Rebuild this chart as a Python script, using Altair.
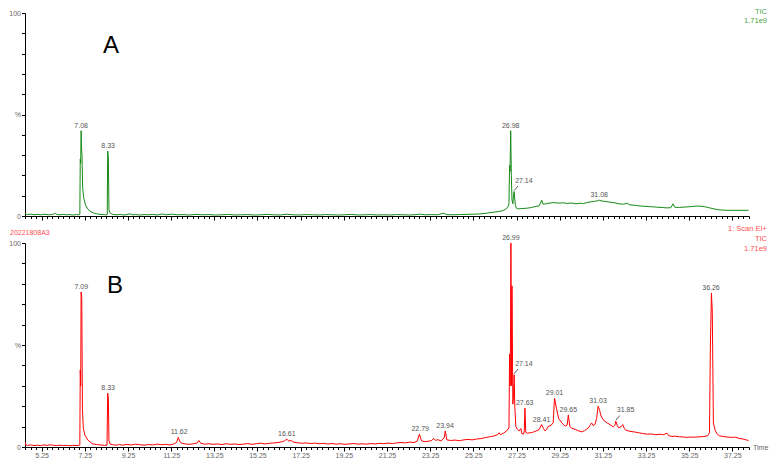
import altair as alt
import pandas as pd

# ---------------- data ----------------
# Trace A (green), retention time (min) and relative intensity (%)
A_t = [4.48, 4.52, 4.6, 4.75, 4.9, 5.05, 5.2, 5.35, 5.5, 5.62, 5.75, 5.9, 5.96, 6.1, 6.25, 6.4, 6.55, 6.7, 6.85, 6.98,
       7.02, 7.04, 7.06, 7.08, 7.10, 7.12, 7.15, 7.2, 7.28, 7.38, 7.5, 7.65, 7.8, 7.95, 8.1, 8.2, 8.29, 8.31, 8.34, 8.37,
       8.41, 8.5, 8.6, 8.75, 8.9, 9.05, 9.2, 9.35, 9.45, 9.6, 9.8, 10.0, 10.2, 10.4, 10.6, 10.85, 11.0, 11.3, 11.5, 11.8,
       12.1, 12.4, 12.7, 13.0, 13.3, 13.6, 13.9, 14.2, 14.5, 14.8, 15.1, 15.4, 15.7, 16.0, 16.3, 16.6, 16.9, 17.2, 17.5,
       17.8, 18.1, 18.4, 18.7, 19.0, 19.3, 19.6, 19.9, 20.2, 20.5, 20.8, 21.1, 21.4, 21.7, 22.0, 22.3, 22.6, 22.8, 23.0,
       23.3, 23.6, 23.87, 24.0, 24.3, 24.6, 24.9, 25.2, 25.5, 25.8, 26.0, 26.2, 26.4, 26.6, 26.75, 26.85, 26.9, 26.93,
       26.95, 26.98, 27.01, 27.04, 27.08, 27.11, 27.14, 27.17, 27.2, 27.25, 27.35, 27.5, 27.7, 27.9, 28.1, 28.3, 28.42,
       28.48, 28.6, 28.8, 29.0, 29.2, 29.4, 29.6, 29.8, 30.0, 30.2, 30.35, 30.5, 30.7, 30.85, 31.0, 31.08, 31.2, 31.4,
       31.6, 31.8, 32.0, 32.2, 32.4, 32.45, 32.6, 32.8, 33.0, 33.2, 33.4, 33.6, 33.8, 34.0, 34.2, 34.4, 34.5, 34.58,
       34.8, 35.0, 35.3, 35.6, 35.8, 36.0, 36.2, 36.4, 36.6, 36.8, 37.0, 37.3, 37.6, 38.0]
A_v = [1.6, 0.9, 0.7, 0.9, 0.6, 0.8, 0.6, 0.9, 0.7, 0.6, 0.8, 1.3, 0.7, 0.6, 0.8, 0.6, 0.7, 0.5, 0.7, 0.6,
       0.8, 28, 26, 42, 33, 30, 14, 9, 5.5, 3.5, 2.3, 1.5, 1.1, 0.8, 0.7, 0.6, 0.7, 32, 29, 3,
       1.6, 1.0, 0.7, 0.6, 0.8, 0.5, 0.7, 1.1, 0.6, 0.7, 0.5, 0.7, 0.6, 0.8, 0.5, 1.0, 0.6, 0.9, 0.6, 0.7,
       0.5, 0.8, 0.6, 0.7, 0.5, 0.6, 0.8, 0.5, 0.6, 0.7, 0.5, 0.6, 0.8, 0.6, 0.5, 0.9, 0.6, 0.5, 0.7,
       0.6, 0.5, 0.7, 0.6, 0.5, 0.6, 0.8, 0.5, 0.6, 0.7, 0.5, 0.6, 0.5, 0.7, 0.6, 0.5, 0.7, 0.9, 0.6,
       0.7, 0.6, 1.4, 0.7, 0.6, 0.7, 0.8, 0.9, 1.0, 1.3, 1.6, 1.9, 2.2, 2.6, 3.3, 4.5, 6, 25,
       22, 42, 20, 8, 6, 10, 12, 8, 5, 3.8, 3.5, 3.7, 3.8, 4.1, 4.6, 5.0, 7.8,
       5.8, 6.0, 6.4, 6.6, 6.3, 6.5, 6.2, 6.4, 6.0, 6.3, 6.1, 6.6, 7.0, 7.2, 7.5, 7.8, 7.4, 7.1,
       6.8, 6.5, 6.0, 5.8, 6.3, 5.6, 5.4, 5.2, 4.9, 4.8, 4.6, 4.5, 4.3, 4.2, 4.0, 4.1, 6.0, 4.3,
       4.2, 4.4, 4.6, 4.9, 4.8, 4.5, 4.0, 3.5, 3.1, 2.9, 2.8, 2.8, 2.8, 2.8]

# Trace B (red)
B_t = [4.48, 4.52, 4.6, 4.75, 4.9, 5.05, 5.2, 5.35, 5.5, 5.65, 5.8, 5.95, 6.1, 6.25, 6.4, 6.55, 6.7, 6.85, 6.98,
       7.02, 7.04, 7.06, 7.08, 7.11, 7.14, 7.18, 7.26, 7.4, 7.6, 7.8, 8.0, 8.15, 8.28, 8.31, 8.34, 8.37, 8.42, 8.55,
       8.7, 8.85, 9.0, 9.2, 9.4, 9.6, 9.8, 10.0, 10.2, 10.4, 10.6, 10.8, 11.0, 11.2, 11.4, 11.5, 11.58, 11.66, 11.75,
       11.9, 12.1, 12.3, 12.45, 12.54, 12.62, 12.8, 13.0, 13.2, 13.4, 13.6, 13.8, 14.0, 14.2, 14.4, 14.6, 14.8, 15.0,
       15.2, 15.4, 15.6, 15.8, 16.0, 16.2, 16.4, 16.5, 16.61, 16.7, 16.8, 16.9, 17.1, 17.3, 17.5, 17.7, 17.9, 18.1,
       18.3, 18.5, 18.7, 18.9, 19.1, 19.3, 19.5, 19.7, 19.9, 20.1, 20.3, 20.5, 20.7, 20.9, 21.1, 21.3, 21.5, 21.7,
       21.9, 22.1, 22.3, 22.5, 22.65, 22.75, 22.85, 23.0, 23.15, 23.3, 23.42, 23.5, 23.6, 23.75, 23.9, 23.95, 24.02,
       24.2, 24.4, 24.6, 24.8, 25.0, 25.2, 25.4, 25.6, 25.8, 26.0, 26.2, 26.35, 26.45, 26.5, 26.65, 26.8, 26.9,
       26.93, 26.96, 26.99, 27.02, 27.04, 27.08, 27.11, 27.14, 27.17, 27.22, 27.3, 27.38, 27.45, 27.5, 27.58, 27.61,
       27.64, 27.68, 27.75, 27.9, 28.0, 28.15, 28.3, 28.41, 28.5, 28.57, 28.65, 28.73, 28.85, 28.95, 29.01, 29.1,
       29.2, 29.35, 29.5, 29.6, 29.65, 29.72, 29.8, 29.97, 30.1, 30.27, 30.4, 30.5, 30.58, 30.68, 30.73, 30.8, 30.88,
       30.96, 31.03, 31.1, 31.15, 31.25, 31.35, 31.45, 31.58, 31.73, 31.8, 31.85, 31.92, 31.98, 32.1, 32.17, 32.25,
       32.3, 32.45, 32.6, 32.7, 32.9, 33.1, 33.3, 33.5, 33.7, 33.9, 34.05, 34.22, 34.3, 34.45, 34.6, 34.8, 35.0,
       35.13, 35.3, 35.5, 35.7, 35.9, 36.1, 36.19, 36.23, 36.28, 36.32, 36.37, 36.46, 36.55, 36.64, 36.8, 37.0,
       37.25, 37.4, 37.56, 37.7, 37.85, 38.0]
B_v = [2.4, 1.0, 0.8, 1.0, 0.7, 0.9, 0.7, 1.0, 0.8, 1.1, 0.8, 0.7, 0.9, 0.7, 0.8, 0.6, 0.8, 0.7, 0.8,
       1.0, 37.7, 30, 76, 73, 19, 9.4, 5.6, 3.3, 1.6, 1.2, 1.0, 0.8, 0.9, 26.4, 24, 3, 1.5, 1.1,
       0.9, 1.2, 0.9, 1.3, 1.0, 1.4, 1.1, 0.9, 1.2, 1.0, 1.4, 1.1, 1.3, 1.0, 1.6, 2.2, 4.7, 2.5, 1.8,
       1.5, 1.3, 1.6, 1.9, 3.2, 1.8, 1.4, 1.6, 1.3, 1.5, 1.2, 1.6, 1.3, 1.5, 1.2, 1.4, 1.7, 1.3,
       1.6, 1.9, 1.5, 1.8, 2.0, 2.2, 2.6, 3.0, 3.8, 2.9, 3.3, 2.4, 2.1, 1.8, 2.0, 1.7, 1.9, 1.6,
       1.8, 1.5, 1.7, 1.4, 1.6, 1.3, 1.5, 1.7, 1.4, 1.6, 1.4, 1.7, 1.5, 1.8, 1.6, 1.9, 1.7, 2.0,
       2.2, 2.0, 2.4, 2.2, 2.9, 6.3, 3.0, 2.6, 2.8, 3.1, 4.2, 3.2, 3.6, 3.0, 4.5, 7.9, 3.5,
       3.2, 3.4, 3.1, 3.5, 3.7, 3.5, 3.9, 4.1, 4.6, 5.0, 5.4, 5.9, 7.0, 6.0, 6.8, 8.0, 9.4,
       45.6, 30, 100, 30, 79, 21, 25, 35.4, 20, 10, 8.5, 7.9, 9.0, 6.5, 6.3, 8,
       19, 7.2, 6.8, 7.0, 7.2, 7.8, 8.6, 11, 9.0, 7.9, 8.8, 10.2, 10.6, 12, 24, 19,
       14, 11.8, 10.2, 10.8, 15.7, 10.2, 9.2, 8.6, 8.0, 7.4, 8.0, 8.8, 9.4, 11.0, 11.8, 10.5, 11.0,
       14, 20, 18, 15.7, 13.5, 12.6, 11.8, 11, 9.9, 10.5, 12.6, 10.5, 9.4, 10, 11, 9.0,
       8.3, 7.8, 7.5, 7.4, 7.0, 6.6, 6.3, 6.4, 6.0, 6.3, 6.0, 6.8, 5.5, 5.2, 5.3, 5.0, 4.9,
       4.7, 4.9, 4.8, 5.0, 5.1, 5.5, 7, 48.7, 75.5, 66, 11.8, 7.9, 6.3, 5.5, 5.2, 4.9,
       4.7, 4.8, 4.2, 4.0, 3.6, 3.2]

# Peak annotations: label text and peak height (%)
A_peak_lab = ["7.08", "8.33", "26.98", "31.08"]
A_peak_v = [42, 32, 42, 7.8]
A_lead_lab = ["27.14"]
A_lead_v = [12]

B_peak_lab = ["7.09", "8.33", "11.62", "16.61", "22.79", "23.94", "26.99", "27.63", "28.41", "29.01",
              "29.65", "31.03", "36.26"]
B_peak_v = [76, 26.4, 4.7, 3.8, 6.3, 7.9, 100, 19, 11, 24, 15.7, 20, 75.5]
B_lead_lab = ["27.14", "31.85"]
B_lead_v = [35.4, 12.6]

# ---------------- chart ----------------
FONT = "Liberation Sans"
W = 724
H1 = 203
H2 = 204
GREEN = "#168a16"
GREEN_TXT = "#4aa84a"
RED = "#ff0000"
RED_TXT = "#ff5050"
LAB = "#555555"

xs = alt.Scale(domain=[4.48, 38.02], nice=False, zero=False)
ys = alt.Scale(domain=[0, 100], nice=False, zero=True)

tick_vals = [4.5 + 0.25 * i for i in range(135)]
y_vals = list(range(0, 101, 10))
major = "abs((datum.value - 5.25) % 2) < 0.001"
tick_size = {"condition": {"test": major, "value": 4}, "value": 2.5}

def x_axis(show_labels):
    kw = dict(values=tick_vals, tickCount=len(tick_vals) + 5, title=None, grid=False,
              domainColor="black", tickColor="black",
              tickSize=tick_size, labelOverlap=False, labelFlush=False)
    if show_labels:
        kw.update(labels=True, labelExpr=major + " ? format(datum.value, '.2f') : ''",
                  labelFontSize=7, labelColor="#666666", labelFont=FONT, labelPadding=0)
    else:
        kw.update(labels=False)
    return alt.Axis(**kw)

y_axis = alt.Axis(values=y_vals, tickCount=len(y_vals) + 5, title=None, grid=False, domainColor="black",
                  tickColor="black", tickSize=3.5, labelPadding=1, labelFontSize=7, labelFont=FONT,
                  labelColor="#666666", labelOverlap=False, labelFlush=False,
                  labelExpr="datum.value == 50 ? '%' : (datum.value == 0 || datum.value == 100 ? datum.label : '')")


def panel(ts, vs, color, peak_lab, peak_v, lead_lab, lead_v, show_labels, height):
    df = pd.DataFrame({"t": ts, "v": vs})
    line = alt.Chart(df).mark_line(color=color, strokeWidth=1, clip=True).encode(
        x=alt.X("t:Q", scale=xs, axis=x_axis(show_labels)),
        y=alt.Y("v:Q", scale=ys, axis=y_axis),
    )
    pk = pd.DataFrame({"lab": peak_lab, "t": [float(s) for s in peak_lab], "v": peak_v})
    labels = alt.Chart(pk).mark_text(fontSize=7, font=FONT, color=LAB, baseline="bottom", dy=-2).encode(
        x=alt.X("t:Q", scale=xs), y=alt.Y("v:Q", scale=ys), text="lab:N")
    ld = pd.DataFrame({"lab": lead_lab, "t": [float(s) for s in lead_lab], "v": lead_v})
    lead_text = alt.Chart(ld).mark_text(fontSize=7, font=FONT, color=LAB, align="left",
                                        baseline="middle", dx=1, dy=-11).encode(
        x=alt.X("t:Q", scale=xs), y=alt.Y("v:Q", scale=ys), text="lab:N")
    lead_rule = alt.Chart(ld).transform_calculate(
        t2="datum.t + 0.18", v1="datum.v + 0.5", v2="datum.v + 2.8"
    ).mark_rule(color="#333333", strokeWidth=0.8).encode(
        x=alt.X("t:Q", scale=xs), x2="t2:Q",
        y=alt.Y("v1:Q", scale=ys), y2="v2:Q")
    return alt.layer(line, labels, lead_text, lead_rule).properties(width=W, height=height)


def note(txt, x, y, size, color, align="left", baseline="middle"):
    return alt.Chart(pd.DataFrame({"s": [txt]})).mark_text(
        font=FONT, fontSize=size, color=color, align=align, baseline=baseline
    ).encode(x=alt.value(x), y=alt.value(y), text="s:N")


top = alt.layer(
    panel(A_t, A_v, GREEN, A_peak_lab, A_peak_v, A_lead_lab, A_lead_v, False, H1),
    note("A", 86, 33, 24, "black", align="center"),
    note("TIC", W + 18, -1, 7.5, GREEN_TXT, align="right"),
    note("1.71e9", W + 18, 8, 7.5, GREEN_TXT, align="right"),
)

bottom = alt.layer(
    panel(B_t, B_v, RED, B_peak_lab, B_peak_v, B_lead_lab, B_lead_v, True, H2),
    note("B", 90, 43, 24, "black", align="center"),
    note("1: Scan EI+", W + 18, -14, 7.5, RED_TXT, align="right"),
    note("TIC", W + 18, -4, 7.5, RED_TXT, align="right"),
    note("1.71e9", W + 18, 6, 7.5, RED_TXT, align="right"),
    note("20221808A3", -15, -10, 7, RED_TXT, align="left"),
    note("Time", W + 4, H2 + 1, 7, "#666666", align="left"),
)

chart = alt.vconcat(top, bottom, spacing=4).properties(padding=0).configure_view(stroke=None)

chart.save("out.html", embed_options={"renderer": "svg", "actions": False})
